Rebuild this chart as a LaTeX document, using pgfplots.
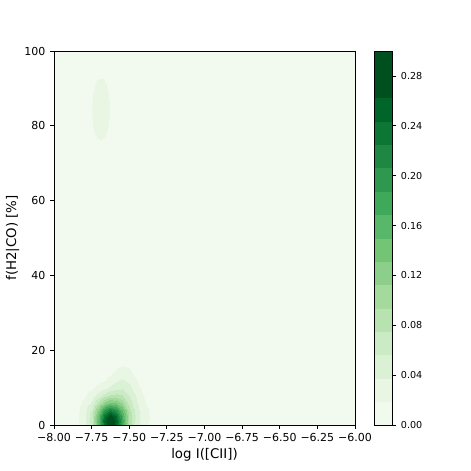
\documentclass[border=0pt]{standalone}
\usepackage{fontspec}
\setmainfont{DejaVu Sans}
\usepackage{pgfplots}
\pgfplotsset{compat=1.18}

\begin{document}
\begin{tikzpicture}
\begin{axis}[
    name=main,
    view={0}{90},
    hide z axis,
    scale only axis,
    width=225.75pt, height=280.5pt,
    xmin=-8, xmax=-6, ymin=0, ymax=100,
    enlargelimits=false,
    xtick={-8,-7.75,-7.5,-7.25,-7,-6.75,-6.5,-6.25,-6},
    xticklabels={−8.00,−7.75,−7.50,−7.25,−7.00,−6.75,−6.50,−6.25,−6.00},
    ytick={0,20,40,60,80,100},
    yticklabels={0,20,40,60,80,100},
    xtick pos=left, ytick pos=left,
    tick align=outside,
    major tick length=2.85pt,
    tick style={black, line width=0.6pt},
    axis line style={line width=0.6pt},
    ticklabel style={font=\fontsize{8.25}{9}\selectfont},
    label style={font=\fontsize{10}{12}\selectfont},
    xlabel={log I([CII])},
    ylabel={f(H2|CO) [\%]},
    xlabel style={yshift=2pt},
    ylabel style={yshift=-3pt},
    colormap={greens}{
        rgb255=(242,250,239) rgb255=(233,246,228) rgb255=(219,241,213)
        rgb255=(203,235,196) rgb255=(184,227,177) rgb255=(164,218,158)
        rgb255=(140,207,138) rgb255=(116,196,118) rgb255=(89,183,105)
        rgb255=(63,169,91) rgb255=(47,152,79) rgb255=(30,135,66)
        rgb255=(12,119,52) rgb255=(0,101,41) rgb255=(0,79,31)
        rgb255=(0,79,31)},
    colormap access=piecewise constant,
    point meta min=0, point meta max=0.3,
    colorbar,
    colorbar style={
        width=13.5pt,
        at={(parent axis.north east)}, anchor=north west, xshift=6pt,
        ytick={0,0.04,0.08,0.12,0.16,0.2,0.24,0.28},
        yticklabels={0.00,0.04,0.08,0.12,0.16,0.20,0.24,0.28},
        ytick pos=right, yticklabel pos=right,
        tick align=outside,
        major tick length=2.85pt,
        tick style={black, line width=0.6pt},
        axis line style={line width=0.6pt},
        yticklabel style={font=\fontsize{7.2}{8}\selectfont},
    },
]
% kernel density, main peak
\addplot3[surf, shader=interp] table {
x y z
-8.00 0 0.0016
-7.90 0 0.0077
-7.85 0 0.0147
-7.80 0 0.0294
-7.75 0 0.0698
-7.70 0 0.1616
-7.665 0 0.2386
-7.625 0 0.2833
-7.585 0 0.2466
-7.55 0 0.1747
-7.50 0 0.0852
-7.45 0 0.0423
-7.40 0 0.0243
-7.35 0 0.0142
-7.30 0 0.0077
-7.20 0 0.0016
-6.00 0 0

-8.00 1 0.0017
-7.90 1 0.0080
-7.85 1 0.0153
-7.80 1 0.0306
-7.75 1 0.0728
-7.70 1 0.1684
-7.665 1 0.2488
-7.625 1 0.2956
-7.585 1 0.2582
-7.55 1 0.1836
-7.50 1 0.0903
-7.45 1 0.0448
-7.40 1 0.0255
-7.35 1 0.0148
-7.30 1 0.0080
-7.20 1 0.0017
-6.00 1 0

-8.00 2.5 0.0017
-7.90 2.5 0.0081
-7.85 2.5 0.0154
-7.80 2.5 0.0303
-7.75 2.5 0.0700
-7.70 2.5 0.1583
-7.665 2.5 0.2327
-7.625 2.5 0.2768
-7.585 2.5 0.2443
-7.55 2.5 0.1771
-7.50 2.5 0.0906
-7.45 2.5 0.0459
-7.40 2.5 0.0260
-7.35 2.5 0.0150
-7.30 2.5 0.0081
-7.20 2.5 0.0017
-6.00 2.5 0

-8.00 4 0.0016
-7.90 4 0.0077
-7.85 4 0.0145
-7.80 4 0.0277
-7.75 4 0.0600
-7.70 4 0.1295
-7.665 4 0.1878
-7.625 4 0.2237
-7.585 4 0.2017
-7.55 4 0.1518
-7.50 4 0.0836
-7.45 4 0.0442
-7.40 4 0.0249
-7.35 4 0.0143
-7.30 4 0.0077
-7.20 4 0.0016
-6.00 4 0

-8.00 6 0.0014
-7.90 6 0.0065
-7.85 6 0.0122
-7.80 6 0.0220
-7.75 6 0.0425
-7.70 6 0.0825
-7.665 6 0.1157
-7.625 6 0.1387
-7.585 6 0.1324
-7.55 6 0.1090
-7.50 6 0.0693
-7.45 6 0.0390
-7.40 6 0.0216
-7.35 6 0.0122
-7.30 6 0.0065
-7.20 6 0.0014
-6.00 6 0

-8.00 8 0.0010
-7.90 8 0.0049
-7.85 8 0.0092
-7.80 8 0.0158
-7.75 8 0.0271
-7.70 8 0.0461
-7.665 8 0.0618
-7.625 8 0.0759
-7.585 8 0.0803
-7.55 8 0.0753
-7.50 8 0.0555
-7.45 8 0.0322
-7.40 8 0.0171
-7.35 8 0.0093
-7.30 8 0.0049
-7.20 8 0.0010
-6.00 8 0

-8.00 10 0.0007
-7.90 10 0.0033
-7.85 10 0.0062
-7.80 10 0.0104
-7.75 10 0.0164
-7.70 10 0.0248
-7.665 10 0.0322
-7.625 10 0.0417
-7.585 10 0.0508
-7.55 10 0.0539
-7.50 10 0.0439
-7.45 10 0.0251
-7.40 10 0.0123
-7.35 10 0.0064
-7.30 10 0.0033
-7.20 10 0.0007
-6.00 10 0

-8.00 12 0.0004
-7.90 12 0.0020
-7.85 12 0.0037
-7.80 12 0.0062
-7.75 12 0.0094
-7.70 12 0.0134
-7.665 12 0.0174
-7.625 12 0.0246
-7.585 12 0.0341
-7.55 12 0.0395
-7.50 12 0.0335
-7.45 12 0.0184
-7.40 12 0.0082
-7.35 12 0.0039
-7.30 12 0.0020
-7.20 12 0.0004
-6.00 12 0

-8.00 14 0.0002
-7.90 14 0.0011
-7.85 14 0.0020
-7.80 14 0.0033
-7.75 14 0.0050
-7.70 14 0.0071
-7.665 14 0.0095
-7.625 14 0.0150
-7.585 14 0.0229
-7.55 14 0.0279
-7.50 14 0.0240
-7.45 14 0.0125
-7.40 14 0.0050
-7.35 14 0.0022
-7.30 14 0.0011
-7.20 14 0.0002
-6.00 14 0

-8.00 16 0.0001
-7.90 16 0.0005
-7.85 16 0.0010
-7.80 16 0.0016
-7.75 16 0.0024
-7.70 16 0.0035
-7.665 16 0.0050
-7.625 16 0.0087
-7.585 16 0.0144
-7.55 16 0.0181
-7.50 16 0.0157
-7.45 16 0.0079
-7.40 16 0.0028
-7.35 16 0.0011
-7.30 16 0.0005
-7.20 16 0.0001
-6.00 16 0

-8.00 18 0
-7.90 18 0.0002
-7.85 18 0.0004
-7.80 18 0.0007
-7.75 18 0.0010
-7.70 18 0.0016
-7.665 18 0.0025
-7.625 18 0.0047
-7.585 18 0.0083
-7.55 18 0.0107
-7.50 18 0.0093
-7.45 18 0.0045
-7.40 18 0.0015
-7.35 18 0.0004
-7.30 18 0.0002
-7.20 18 0
-6.00 18 0

-8.00 21 0
-7.90 21 0.0001
-7.85 21 0.0001
-7.80 21 0.0002
-7.75 21 0.0002
-7.70 21 0.0004
-7.665 21 0.0009
-7.625 21 0.0016
-7.585 21 0.0030
-7.55 21 0.0039
-7.50 21 0.0034
-7.45 21 0.0016
-7.40 21 0.0005
-7.35 21 0.0001
-7.30 21 0.0001
-7.20 21 0
-6.00 21 0

-8.00 100 0
-7.90 100 0
-7.85 100 0
-7.80 100 0
-7.75 100 0
-7.70 100 0
-7.665 100 0
-7.625 100 0
-7.585 100 0
-7.55 100 0
-7.50 100 0
-7.45 100 0
-7.40 100 0
-7.35 100 0
-7.30 100 0
-7.20 100 0
-6.00 100 0
};
% kernel density, faint secondary blob
\addplot3[surf, shader=interp] table {
x y z
-7.77 74 0.0129
-7.74 74 0.0157
-7.715 74 0.0171
-7.69 74 0.0176
-7.665 74 0.0171
-7.64 74 0.0157
-7.61 74 0.0129

-7.77 78 0.0153
-7.74 78 0.0182
-7.715 78 0.0196
-7.69 78 0.0199
-7.665 78 0.0196
-7.64 78 0.0182
-7.61 78 0.0153

-7.77 81.5 0.0164
-7.74 81.5 0.0193
-7.715 81.5 0.0207
-7.69 81.5 0.0212
-7.665 81.5 0.0207
-7.64 81.5 0.0193
-7.61 81.5 0.0164

-7.77 84.5 0.0168
-7.74 84.5 0.0197
-7.715 84.5 0.0210
-7.69 84.5 0.0215
-7.665 84.5 0.0210
-7.64 84.5 0.0197
-7.61 84.5 0.0168

-7.77 87.5 0.0164
-7.74 87.5 0.0193
-7.715 87.5 0.0207
-7.69 87.5 0.0212
-7.665 87.5 0.0207
-7.64 87.5 0.0193
-7.61 87.5 0.0164

-7.77 91 0.0153
-7.74 91 0.0182
-7.715 91 0.0196
-7.69 91 0.0199
-7.665 91 0.0196
-7.64 91 0.0182
-7.61 91 0.0153

-7.77 95 0.0129
-7.74 95 0.0157
-7.715 95 0.0171
-7.69 95 0.0176
-7.665 95 0.0171
-7.64 95 0.0157
-7.61 95 0.0129
};
\end{axis}
\pgfresetboundingbox
\path (main.south west) ++(-40.5pt,-34.5pt) rectangle ++(353.25pt,353.25pt);
\end{tikzpicture}
\end{document}
